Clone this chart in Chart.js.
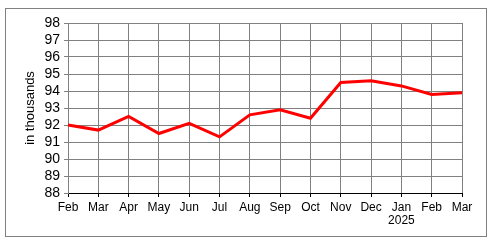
<!DOCTYPE html>
<html>
<head>
<meta charset="utf-8">
<script src="https://cdn.jsdelivr.net/npm/chart.js@4"></script>
<style>
  html, body { margin: 0; padding: 0; background: #fff; }
  #wrap { width: 499px; height: 247px; position: relative; }
</style>
</head>
<body>
<div id="wrap"><canvas id="c" width="499" height="247"></canvas></div>
<script>
const categories = ["Feb", "Mar", "Apr", "May", "Jun", "Jul", "Aug", "Sep", "Oct", "Nov", "Dec", ["Jan", "2025"], "Feb", "Mar"];
const values = [92.0, 91.7, 92.5, 91.5, 92.1, 91.3, 92.6, 92.9, 92.4, 94.5, 94.6, 94.3, 93.8, 93.9];
const yMin = 88;
const yMax = 98;
const yStep = 1;
const yTitle = "in thousands";

const borderPlugin = {
  id: 'outerBorder',
  beforeDraw(chart) {
    const ctx = chart.ctx;
    ctx.save();
    ctx.fillStyle = '#ffffff';
    ctx.fillRect(0, 0, chart.width, chart.height);
    ctx.strokeStyle = '#808080';
    ctx.lineWidth = 1;
    ctx.strokeRect(5.5, 8.5, 481, 228);
    ctx.restore();
  }
};

new Chart(document.getElementById('c'), {
  type: 'line',
  data: {
    labels: categories,
    datasets: [{
      data: values,
      borderColor: '#ff0000',
      borderWidth: 3,
      pointRadius: 0,
      tension: 0,
      fill: false
    }]
  },
  options: {
    responsive: false,
    animation: false,
    devicePixelRatio: 1,
    layout: { padding: { left: 0, right: 37, top: 23, bottom: 0 } },
    plugins: { legend: { display: false }, tooltip: { enabled: false } },
    scales: {
      x: {
        offset: false,
        grid: { color: '#808080', lineWidth: 1, tickLength: 4, tickColor: '#000000', drawOnChartArea: true },
        border: { color: '#000000', width: 1 },
        ticks: { color: '#000000', font: { family: 'Liberation Sans, Arial, sans-serif', size: 12, lineHeight: 1.1 }, padding: 4, maxRotation: 0, autoSkip: false },
        afterFit(scale) { scale.height = 54; }
      },
      y: {
        min: yMin,
        max: yMax,
        grid: { color: '#808080', lineWidth: 1, tickLength: 4, tickColor: '#808080' },
        border: { color: '#808080', width: 1 },
        ticks: { stepSize: yStep, autoSkip: false, color: '#000000', font: { family: 'Liberation Sans, Arial, sans-serif', size: 14 }, padding: 4 },
        title: { display: true, text: yTitle, color: '#000000', font: { family: 'Liberation Sans, Arial, sans-serif', size: 13 }, padding: { top: 23, bottom: 0 } },
        afterFit(scale) { scale.width = 68; }
      }
    }
  },
  plugins: [borderPlugin]
});
</script>
</body>
</html>
